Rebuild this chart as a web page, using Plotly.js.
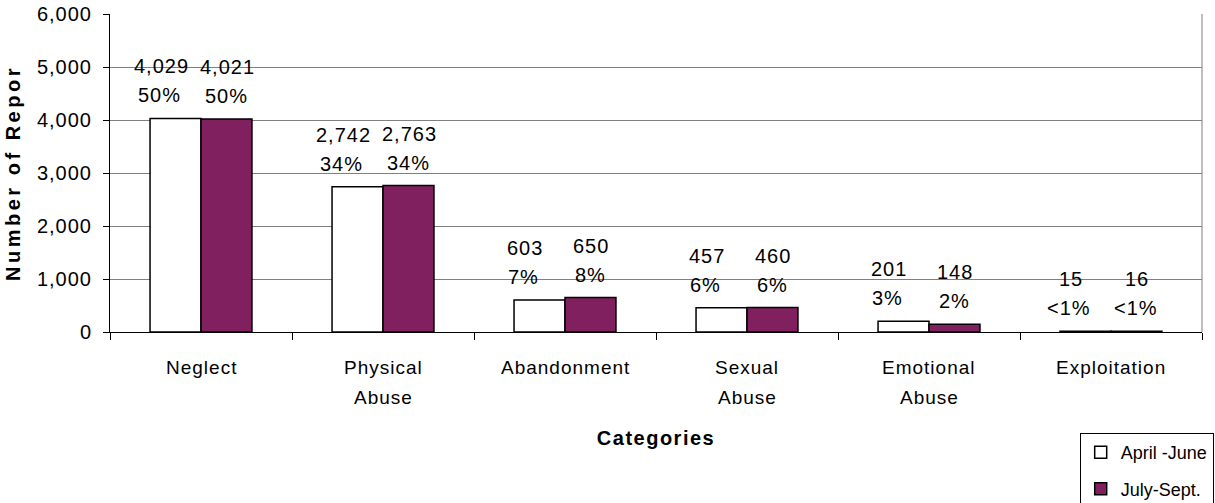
<!DOCTYPE html>
<html>
<head>
<meta charset="utf-8">
<script src="https://cdn.plot.ly/plotly-3.0.1.min.js"></script>
<style>
  html, body { margin: 0; padding: 0; background: #ffffff; }
  #chart { width: 1215px; height: 503px; }
  .g-ytitle text { letter-spacing: 3.5px; }
  .g-xtitle text { letter-spacing: 1.5px; }
  .ytick text { letter-spacing: 1px; }
  .annotation-text { letter-spacing: 1px; }
</style>
</head>
<body>
<div id="chart"></div>
<script>
// ---- data ----
const categories = ['Neglect', 'Physical Abuse', 'Abandonment', 'Sexual Abuse', 'Emotional Abuse', 'Exploitation'];
const catLine1 = ['Neglect', 'Physical', 'Abandonment', 'Sexual', 'Emotional', 'Exploitation'];
const catLine2 = ['', 'Abuse', '', 'Abuse', 'Abuse', ''];
const seriesNames = ['April -June', 'July-Sept.'];
const aprJun = [4029, 2742, 603, 457, 201, 15];
const julSep = [4021, 2763, 650, 460, 148, 16];
const pctAprJun = ['50%', '34%', '7%', '6%', '3%', '<1%'];
const pctJulSep = ['50%', '34%', '8%', '6%', '2%', '<1%'];

// ---- styling ----
const FONT = 'Liberation Sans, Arial, sans-serif';
const PURPLE = '#80205f';

const traces = [
  {
    type: 'bar', name: seriesNames[0], x: categories, y: aprJun,
    legendgroup: 'a',
    marker: { color: '#ffffff', line: { color: '#000000', width: 1.5 } },
    hoverinfo: 'x+y'
  },
  {
    type: 'bar', name: seriesNames[1], x: categories, y: julSep,
    legendgroup: 'b',
    marker: { color: PURPLE, line: { color: '#000000', width: 1.5 } },
    hoverinfo: 'x+y'
  }
];

const annotations = [];
const fmt = v => v.toLocaleString('en-US');
const lblFont = { family: FONT, size: 20, color: '#000000' };
const catFont = { family: FONT, size: 19, color: '#000000' };
categories.forEach((c, i) => {
  annotations.push({ x: c, y: aprJun[i], xref: 'x', yref: 'y', text: fmt(aprJun[i]), showarrow: false,
    xshift: -40, yshift: 52, yanchor: 'middle', font: lblFont });
  annotations.push({ x: c, y: aprJun[i], xref: 'x', yref: 'y', text: pctAprJun[i], showarrow: false,
    xshift: -42, yshift: 23, yanchor: 'middle', font: lblFont });
  annotations.push({ x: c, y: julSep[i], xref: 'x', yref: 'y', text: fmt(julSep[i]), showarrow: false,
    xshift: 26, yshift: 52, yanchor: 'middle', font: lblFont });
  annotations.push({ x: c, y: julSep[i], xref: 'x', yref: 'y', text: pctJulSep[i], showarrow: false,
    xshift: 25, yshift: 23, yanchor: 'middle', font: lblFont });
  annotations.push({ x: c, y: 0, xref: 'x', yref: 'paper', text: catLine1[i], showarrow: false,
    yshift: -35, yanchor: 'middle', font: catFont });
  if (catLine2[i]) {
    annotations.push({ x: c, y: 0, xref: 'x', yref: 'paper', text: catLine2[i], showarrow: false,
      yshift: -65, yanchor: 'middle', font: catFont });
  }
});

const layout = {
  width: 1215, height: 503,
  margin: { l: 110, r: 13, t: 14, b: 171, autoexpand: false },
  paper_bgcolor: '#ffffff', plot_bgcolor: '#ffffff',
  font: { family: FONT, size: 20, color: '#000000' },
  barmode: 'group', bargap: 0.44, bargroupgap: 0,
  showlegend: true,
  legend: {
    x: 0.888, y: -0.318, xanchor: 'left', yanchor: 'top',
    bordercolor: '#000000', borderwidth: 1, bgcolor: '#ffffff',
    font: { family: FONT, size: 18, color: '#000000' },
    traceorder: 'grouped', tracegroupgap: 10
  },
  xaxis: {
    type: 'category', showticklabels: false,
    ticks: 'outside', tickson: 'boundaries', ticklen: 7, tickcolor: '#000000', tickwidth: 1,
    showline: true, linecolor: '#000000', linewidth: 1,
    showgrid: false, zeroline: false, fixedrange: true,
    title: { text: '<b>Categories</b>', standoff: 98, font: { family: FONT, size: 20, color: '#000000' } },
    automargin: true
  },
  yaxis: {
    range: [0, 6000], dtick: 1000, tickformat: ',d',
    ticks: 'outside', ticklen: 6, tickcolor: '#000000', tickwidth: 1,
    ticklabelstandoff: 7,
    showline: true, linecolor: '#000000', linewidth: 1,
    showgrid: true, gridcolor: '#808080', gridwidth: 1,
    zeroline: false, fixedrange: true,
    tickfont: { family: FONT, size: 20, color: '#000000' },
    title: { text: '<b>Number of Repor</b>', standoff: 10, font: { family: FONT, size: 20, color: '#000000' } },
    automargin: true
  },
  shapes: [
    { type: 'line', xref: 'paper', yref: 'paper', x0: 1, x1: 1, y0: 0, y1: 1,
      line: { color: '#808080', width: 1 } }
  ],
  annotations: annotations
};

Plotly.newPlot('chart', traces, layout, { displayModeBar: false });
</script>
</body>
</html>
